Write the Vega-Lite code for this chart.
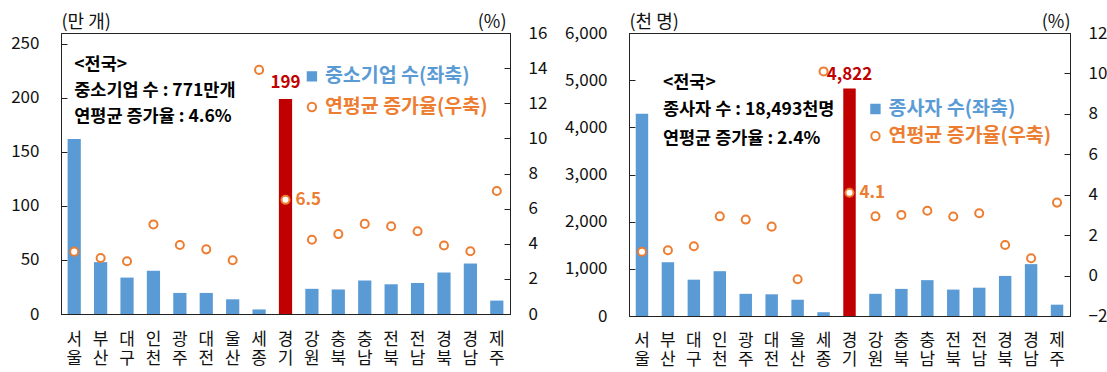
{
  "$schema": "https://vega.github.io/schema/vega-lite/v6.json",
  "background": "white",
  "padding": {"left": 10, "top": 12, "right": 0, "bottom": 0},
  "spacing": 16,
  "config": {
    "font": "Noto Sans CJK KR",
    "view": {"stroke": "#222", "strokeWidth": 1},
    "axis": {"domainColor": "#222", "tickColor": "#222", "labelColor": "#111", "titleColor": "#111", "grid": false, "labelFont": "Noto Sans CJK KR", "titleFont": "Noto Sans CJK KR", "labelOverlap": false}
  },
  "datasets": {
    "firms": [
      {"region": "서울", "count": 162, "rate": 3.55},
      {"region": "부산", "count": 48, "rate": 3.19},
      {"region": "대구", "count": 33.7, "rate": 3.0},
      {"region": "인천", "count": 40, "rate": 5.1},
      {"region": "광주", "count": 19.5, "rate": 3.93},
      {"region": "대전", "count": 19.5, "rate": 3.68},
      {"region": "울산", "count": 13.6, "rate": 3.06},
      {"region": "세종", "count": 4.2, "rate": 13.9},
      {"region": "경기", "count": 199, "rate": 6.5},
      {"region": "강원", "count": 23.3, "rate": 4.23},
      {"region": "충북", "count": 22.7, "rate": 4.55},
      {"region": "충남", "count": 31, "rate": 5.13},
      {"region": "전북", "count": 27.5, "rate": 5.0},
      {"region": "전남", "count": 28.7, "rate": 4.71},
      {"region": "경북", "count": 38.4, "rate": 3.9},
      {"region": "경남", "count": 46.7, "rate": 3.57},
      {"region": "제주", "count": 12.4, "rate": 7.0}
    ],
    "workers": [
      {"region": "서울", "count": 4290, "rate": 1.18},
      {"region": "부산", "count": 1140, "rate": 1.25},
      {"region": "대구", "count": 770, "rate": 1.45},
      {"region": "인천", "count": 950, "rate": 2.93},
      {"region": "광주", "count": 470, "rate": 2.77},
      {"region": "대전", "count": 460, "rate": 2.42},
      {"region": "울산", "count": 345, "rate": -0.18},
      {"region": "세종", "count": 80, "rate": 10.1},
      {"region": "경기", "count": 4822, "rate": 4.1},
      {"region": "강원", "count": 470, "rate": 2.93},
      {"region": "충북", "count": 575, "rate": 3.0},
      {"region": "충남", "count": 760, "rate": 3.21},
      {"region": "전북", "count": 560, "rate": 2.92},
      {"region": "전남", "count": 600, "rate": 3.08},
      {"region": "경북", "count": 850, "rate": 1.51},
      {"region": "경남", "count": 1100, "rate": 0.86},
      {"region": "제주", "count": 240, "rate": 3.61}
    ],
    "firmsNotes": [
      {"region": "서울", "y": 230.5, "text": "<전국>"},
      {"region": "서울", "y": 206, "text": "중소기업 수 : 771만개"},
      {"region": "서울", "y": 182.6, "text": "연평균 증가율 : 4.6%"}
    ],
    "firmsKey": [
      {"region": "강원", "y": 219.9, "shape": "square", "text": "중소기업 수(좌축)", "kind": "bar"},
      {"region": "강원", "y": 191.5, "shape": "circle", "text": "연평균 증가율(우축)", "kind": "rate"}
    ],
    "workersNotes": [
      {"region": "부산", "y": 4940, "text": "<전국>"},
      {"region": "부산", "y": 4367, "text": "종사자 수 : 18,493천명"},
      {"region": "부산", "y": 3752, "text": "연평균 증가율 : 2.4%"}
    ],
    "workersKey": [
      {"region": "강원", "y": 4388, "shape": "square", "text": "종사자 수(좌축)", "kind": "bar"},
      {"region": "강원", "y": 3816, "shape": "circle", "text": "연평균 증가율(우축)", "kind": "rate"}
    ]
  },
  "hconcat": [
    {
      "width": 449,
      "height": 281,
      "encoding": {
        "x": {
          "field": "region", "type": "nominal", "sort": null,
          "scale": {"paddingInner": 0.5, "paddingOuter": 0.25},
          "axis": {"title": null, "ticks": false, "labelAngle": 0, "labelFontSize": 17, "labelLineHeight": 19, "labelPadding": 17, "labelBaseline": "top", "labelExpr": "split(datum.label, '')"}
        }
      },
      "layer": [
        {
          "layer": [
            {
              "data": {"name": "firms"},
              "mark": {"type": "bar"},
              "encoding": {
                "y": {"field": "count", "type": "quantitative", "scale": {"domain": [0, 250]},
                  "axis": {"title": "(만 개)", "values": [0, 50, 100, 150, 200, 250], "tickCount": 20, "format": "d", "labelOverlap": false, "labelFontSize": 17, "tickSize": -6, "labelPadding": 28, "titleAngle": 0, "titleAlign": "left", "titleBaseline": "bottom", "titleX": 0, "titleY": -2, "titleFontSize": 18, "titleFontWeight": "normal"}},
                "color": {"condition": {"test": "datum.region === '경기'", "value": "#C00000"}, "value": "#5B9BD5"}
              }
            },
            {
              "data": {"name": "firms"},
              "transform": [{"filter": "datum.region === '경기'"}],
              "mark": {"type": "text", "baseline": "bottom", "dy": -7, "fontSize": 17, "fontWeight": "bold", "color": "#C00000"},
              "encoding": {
                "y": {"field": "count", "type": "quantitative"},
                "text": {"field": "count", "type": "quantitative", "format": ".0f"}
              }
            },
            {
              "data": {"name": "firmsNotes"},
              "mark": {"type": "text", "align": "left", "baseline": "middle", "fontSize": 17.5, "fontWeight": "bold", "color": "#000"},
              "encoding": {
                "y": {"field": "y", "type": "quantitative"},
                "text": {"field": "text"}
              }
            },
            {
              "data": {"name": "firmsKey"},
              "mark": {"type": "point", "size": 70, "strokeWidth": 2},
              "encoding": {
                "y": {"field": "y", "type": "quantitative"},
                "shape": {"field": "shape", "type": "nominal", "scale": null, "legend": null},
                "fill": {"condition": {"test": "datum.kind === 'bar'", "value": "#5B9BD5"}, "value": "white"},
                "stroke": {"condition": {"test": "datum.kind === 'bar'", "value": "#5B9BD5"}, "value": "#ED7D31"},
                "opacity": {"value": 1}
              }
            },
            {
              "data": {"name": "firmsKey"},
              "mark": {"type": "text", "align": "left", "baseline": "middle", "dx": 13, "fontSize": 19.5, "fontWeight": "bold"},
              "encoding": {
                "y": {"field": "y", "type": "quantitative"},
                "text": {"field": "text"},
                "color": {"condition": {"test": "datum.kind === 'bar'", "value": "#5B9BD5"}, "value": "#ED7D31"}
              }
            }
          ]
        },
        {
          "layer": [
            {
              "data": {"name": "firms"},
              "mark": {"type": "point", "shape": "circle", "size": 65, "strokeWidth": 2, "fill": "white", "stroke": "#ED7D31", "opacity": 1},
              "encoding": {
                "y": {"field": "rate", "type": "quantitative", "scale": {"domain": [0, 16]},
                  "axis": {"orient": "right", "title": "(%)", "values": [0, 2, 4, 6, 8, 10, 12, 14, 16], "tickCount": 20, "format": "d", "labelOverlap": false, "labelFontSize": 17, "tickSize": -6, "labelPadding": 24, "titleAngle": 0, "titleAlign": "right", "titleBaseline": "bottom", "titleX": -4, "titleY": -2, "titleFontSize": 18, "titleFontWeight": "normal"}}
              }
            },
            {
              "data": {"name": "firms"},
              "transform": [{"filter": "datum.region === '경기'"}],
              "mark": {"type": "text", "align": "left", "baseline": "middle", "dx": 10, "fontSize": 17, "fontWeight": "bold", "color": "#ED7D31"},
              "encoding": {
                "y": {"field": "rate", "type": "quantitative"},
                "text": {"field": "rate", "type": "quantitative", "format": ".1f"}
              }
            }
          ]
        }
      ],
      "resolve": {"scale": {"y": "independent"}}
    },
    {
      "width": 441,
      "height": 283,
      "encoding": {
        "x": {
          "field": "region", "type": "nominal", "sort": null,
          "scale": {"paddingInner": 0.52, "paddingOuter": 0.26},
          "axis": {"title": null, "ticks": false, "labelAngle": 0, "labelFontSize": 17, "labelLineHeight": 19, "labelPadding": 16, "labelBaseline": "top", "labelExpr": "split(datum.label, '')"}
        }
      },
      "layer": [
        {
          "layer": [
            {
              "data": {"name": "workers"},
              "mark": {"type": "bar"},
              "encoding": {
                "y": {"field": "count", "type": "quantitative", "scale": {"domain": [0, 6000]},
                  "axis": {"title": "(천 명)", "values": [0, 1000, 2000, 3000, 4000, 5000, 6000], "tickCount": 20, "format": ",.0f", "labelOverlap": false, "labelFontSize": 17, "tickSize": -6, "labelPadding": 28, "titleAngle": 0, "titleAlign": "left", "titleBaseline": "bottom", "titleX": 0, "titleY": -2, "titleFontSize": 18, "titleFontWeight": "normal"}},
                "color": {"condition": {"test": "datum.region === '경기'", "value": "#C00000"}, "value": "#5B9BD5"}
              }
            },
            {
              "data": {"name": "workers"},
              "transform": [{"filter": "datum.region === '경기'"}],
              "mark": {"type": "text", "baseline": "bottom", "dy": -5, "fontSize": 17, "fontWeight": "bold", "color": "#C00000"},
              "encoding": {
                "y": {"field": "count", "type": "quantitative"},
                "text": {"field": "count", "type": "quantitative", "format": ",.0f"}
              }
            },
            {
              "data": {"name": "workersNotes"},
              "mark": {"type": "text", "align": "left", "baseline": "middle", "dx": -5, "fontSize": 17.5, "fontWeight": "bold", "color": "#000"},
              "encoding": {
                "y": {"field": "y", "type": "quantitative"},
                "text": {"field": "text"}
              }
            },
            {
              "data": {"name": "workersKey"},
              "mark": {"type": "point", "size": 70, "strokeWidth": 2},
              "encoding": {
                "y": {"field": "y", "type": "quantitative"},
                "shape": {"field": "shape", "type": "nominal", "scale": null, "legend": null},
                "fill": {"condition": {"test": "datum.kind === 'bar'", "value": "#5B9BD5"}, "value": "white"},
                "stroke": {"condition": {"test": "datum.kind === 'bar'", "value": "#5B9BD5"}, "value": "#ED7D31"},
                "opacity": {"value": 1}
              }
            },
            {
              "data": {"name": "workersKey"},
              "mark": {"type": "text", "align": "left", "baseline": "middle", "dx": 13, "fontSize": 19.5, "fontWeight": "bold"},
              "encoding": {
                "y": {"field": "y", "type": "quantitative"},
                "text": {"field": "text"},
                "color": {"condition": {"test": "datum.kind === 'bar'", "value": "#5B9BD5"}, "value": "#ED7D31"}
              }
            }
          ]
        },
        {
          "layer": [
            {
              "data": {"name": "workers"},
              "mark": {"type": "point", "shape": "circle", "size": 65, "strokeWidth": 2, "fill": "white", "stroke": "#ED7D31", "opacity": 1},
              "encoding": {
                "y": {"field": "rate", "type": "quantitative", "scale": {"domain": [-2, 12]},
                  "axis": {"orient": "right", "title": "(%)", "values": [-2, 0, 2, 4, 6, 8, 10, 12], "tickCount": 20, "format": "d", "labelOverlap": false, "labelFontSize": 17, "tickSize": -6, "labelPadding": 24, "titleAngle": 0, "titleAlign": "right", "titleBaseline": "bottom", "titleX": 0, "titleY": -2, "titleFontSize": 18, "titleFontWeight": "normal"}}
              }
            },
            {
              "data": {"name": "workers"},
              "transform": [{"filter": "datum.region === '경기'"}],
              "mark": {"type": "text", "align": "left", "baseline": "middle", "dx": 10, "fontSize": 17, "fontWeight": "bold", "color": "#ED7D31"},
              "encoding": {
                "y": {"field": "rate", "type": "quantitative"},
                "text": {"field": "rate", "type": "quantitative", "format": ".1f"}
              }
            }
          ]
        }
      ],
      "resolve": {"scale": {"y": "independent"}}
    }
  ]
}
